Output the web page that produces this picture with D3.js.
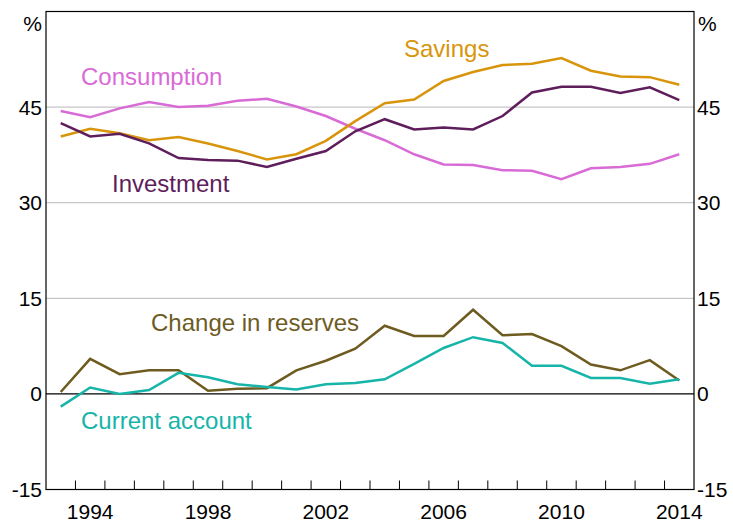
<!DOCTYPE html>
<html><head><meta charset="utf-8">
<script src="https://cdn.jsdelivr.net/npm/d3@7"></script>
<style>body{margin:0;background:#fff}svg{display:block}text{font-family:"Liberation Sans",Arial,sans-serif}</style>
</head><body>
<script>
const years = d3.range(1993, 2015);
const consumption = [44.4,43.4,44.8,45.8,45.0,45.2,46.0,46.3,45.1,43.6,41.6,39.8,37.6,36.0,35.9,35.1,35.0,33.7,35.4,35.6,36.1,37.6];
const savings = [40.4,41.6,40.9,39.8,40.3,39.3,38.1,36.8,37.6,39.7,42.8,45.6,46.2,49.1,50.5,51.6,51.8,52.7,50.7,49.8,49.7,48.5];
const investment = [42.5,40.4,40.8,39.3,37.0,36.7,36.6,35.6,36.9,38.1,41.2,43.1,41.5,41.8,41.5,43.6,47.3,48.2,48.2,47.2,48.1,46.1];
const reserves = [0.3,5.5,3.1,3.7,3.7,0.5,0.8,0.9,3.7,5.2,7.1,10.7,9.1,9.1,13.2,9.2,9.4,7.5,4.6,3.7,5.3,2.1];
const currentAccount = [-2.0,1.0,0.0,0.6,3.3,2.6,1.5,1.1,0.7,1.5,1.7,2.3,4.7,7.2,8.9,8.0,4.4,4.4,2.5,2.5,1.6,2.3];
const yTicks = [-15,0,15,30,45,60];
const xLabels = [1994,1998,2002,2006,2010,2014];

const series = [
  {name:"Consumption", values:consumption, color:"#d86bd6", lx:81, ly:85},
  {name:"Savings", values:savings, color:"#d8950c", lx:404, ly:57},
  {name:"Investment", values:investment, color:"#5e1d5b", lx:112, ly:192},
  {name:"Change in reserves", values:reserves, color:"#6e5b1f", lx:151, ly:331},
  {name:"Current account", values:currentAccount, color:"#17b4a9", lx:81, ly:429}
];

const W=733,H=523, L=46, R=694, T=11.5, B=489.5;
const svg = d3.select("body").append("svg").attr("width",W).attr("height",H);
const x = d3.scaleLinear().domain([1993,2015]).range([L,R]);
const y = d3.scaleLinear().domain([-15,60]).range([B,T]);

// gridlines
svg.append("g").selectAll("line").data(yTicks.filter(t=>t>-15&&t<60&&t!==0)).join("line")
  .attr("x1",L).attr("x2",R).attr("y1",d=>y(d)).attr("y2",d=>y(d))
  .attr("stroke","#c6c6c6").attr("stroke-width",1.2);
// zero line
svg.append("line").attr("x1",L).attr("x2",R).attr("y1",y(0)).attr("y2",y(0)).attr("stroke","#000").attr("stroke-width",1.2);

// x ticks (inside, upward) at year boundaries
svg.append("g").selectAll("line").data(d3.range(1994,2015)).join("line")
  .attr("x1",d=>x(d)).attr("x2",d=>x(d)).attr("y1",B).attr("y2",B-9)
  .attr("stroke","#000").attr("stroke-width",1);

// border
svg.append("rect").attr("x",L).attr("y",T).attr("width",R-L).attr("height",B-T)
  .attr("fill","none").attr("stroke","#000").attr("stroke-width",1.2);

// y labels
const fs=21;
svg.append("g").selectAll("text").data(yTicks.filter(t=>t<60)).join("text")
  .attr("x",42).attr("y",d=>y(d)+7.5).attr("text-anchor","end").attr("font-size",fs).text(d=>d);
svg.append("g").selectAll("text").data(yTicks.filter(t=>t<60)).join("text")
  .attr("x",697).attr("y",d=>y(d)+7.5).attr("text-anchor","start").attr("font-size",fs).text(d=>d);
svg.append("text").attr("x",42).attr("y",31).attr("text-anchor","end").attr("font-size",fs).text("%");
svg.append("text").attr("x",698).attr("y",31).attr("text-anchor","start").attr("font-size",fs).text("%");

// x labels
svg.append("g").selectAll("text").data(xLabels).join("text")
  .attr("x",d=>x(d+0.5)).attr("y",519).attr("text-anchor","middle").attr("font-size",fs).text(d=>d);

// lines
const line = d3.line().x((d,i)=>x(years[i]+0.5)).y(d=>y(d));
svg.append("g").selectAll("path").data(series).join("path")
  .attr("d",d=>line(d.values)).attr("fill","none").attr("stroke",d=>d.color)
  .attr("stroke-width",2.5).attr("stroke-linejoin","miter");

// series labels
svg.append("g").selectAll("text").data(series).join("text")
  .attr("x",d=>d.lx).attr("y",d=>d.ly).attr("font-size",24).attr("fill",d=>d.color).text(d=>d.name);
</script>
</body></html>
